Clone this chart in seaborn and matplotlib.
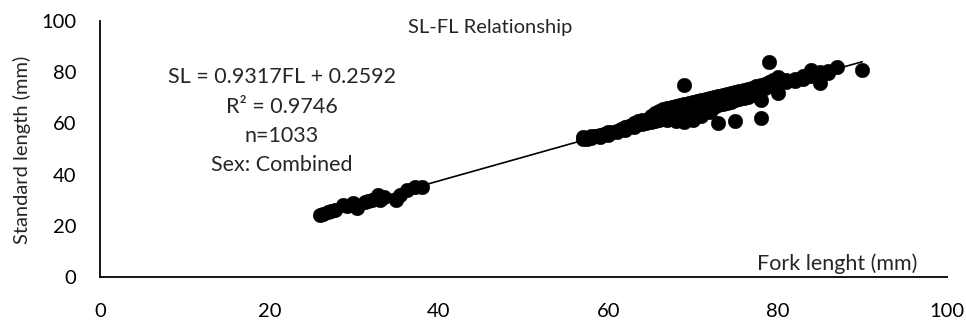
import matplotlib
matplotlib.use("Agg")
import matplotlib.pyplot as plt
import seaborn as sns
import pandas as pd

# ---- data ----
fl_small = [26, 26.9, 27.7, 28.7, 29.9, 30.3, 31.3, 32.1, 32.8, 33, 35, 35.4, 36.2, 37.2, 38, 26.3, 27.3, 29.2, 31.7, 33.5]
sl_small = [24.2, 25.4, 26.2, 28.1, 28.9, 27.0, 29.3, 30.1, 32.0, 30.0, 30.0, 32.0, 34.0, 35.2, 35.2, 24.8, 25.8, 27.8, 29.8, 31.2]

fl_large = [57, 57, 57.5, 58, 58, 58.5, 59, 59, 59.5, 60, 60, 60.5, 61, 61, 61.5, 62, 62, 62.5,
            63, 63, 63, 63.5, 63.5, 64, 64, 64, 64.5, 64.5, 65, 65, 65, 65.5, 65.5, 65.5,
            66, 66, 66, 66.5, 66.5, 66.5, 67, 67, 67, 67, 67.5, 67.5, 67.5, 68, 68, 68, 68,
            68.5, 68.5, 68.5, 69, 69, 69, 69, 69, 69.5, 69.5, 69.5, 70, 70, 70, 70,
            70.5, 70.5, 70.5, 71, 71, 71, 71, 71.5, 71.5, 71.5, 72, 72, 72, 72,
            72.5, 72.5, 72.5, 73, 73, 73, 73, 73.5, 73.5, 73.5, 74, 74, 74, 74.5, 74.5, 74.5,
            75, 75, 75, 75, 75.5, 75.5, 75.5, 76, 76, 76, 76.5, 76.5, 76.5, 77, 77, 77,
            77.5, 77.5, 78, 78, 78, 78, 78.5, 78.5, 79, 79, 79, 79.5, 79.5, 80, 80, 80,
            81, 81, 82, 82, 83, 83, 84, 84, 84, 85, 85, 85, 86, 86, 87, 90]
sl_large = [54.5, 53.8, 54.0, 54.2, 55.0, 55.0, 55.5, 54.8, 56.0, 56.5, 55.6, 56.8, 57.2, 56.5, 57.8, 58.5, 57.5, 58.8,
            59.5, 58.6, 60.2, 59.8, 61.0, 60.5, 59.6, 61.5, 61.0, 60.0, 61.8, 60.5, 63.0, 62.0, 64.0, 61.0,
            62.5, 64.8, 61.5, 63.2, 65.5, 62.0, 66.2, 63.0, 61.5, 64.5, 64.0, 66.5, 62.5, 65.0, 63.5, 61.0, 66.8,
            64.2, 62.0, 67.0, 75.0, 65.5, 63.5, 60.5, 67.5, 65.0, 62.5, 68.0, 66.0, 64.0, 61.5, 68.5,
            66.5, 64.5, 68.8, 67.0, 65.0, 69.0, 63.0, 67.5, 66.0, 69.5, 68.0, 66.0, 70.0, 64.5,
            68.2, 70.3, 66.5, 68.8, 60.0, 67.0, 70.8, 69.5, 71.0, 67.5, 70.0, 68.0, 71.5, 70.2, 72.0, 68.5,
            61.0, 70.8, 69.0, 72.3, 71.0, 72.8, 69.5, 71.5, 73.0, 70.0, 72.0, 73.5, 70.5, 72.5, 74.0, 71.0,
            73.0, 74.5, 62.0, 73.5, 75.0, 69.0, 74.0, 75.5, 84.0, 74.5, 76.0, 75.0, 77.0, 75.5, 78.0, 72.0,
            76.0, 76.8, 76.5, 77.5, 77.5, 78.5, 78.5, 80.0, 81.0, 79.0, 75.8, 80.0, 80.5, 79.5, 82.0, 81.0]

fl = fl_small + fl_large
sl = sl_small + sl_large
df = pd.DataFrame({"FL": fl, "SL": sl})

slope, intercept = 0.9317, 0.2592
trend = pd.DataFrame({"FL": [min(fl), max(fl)]})
trend["SL"] = slope * trend["FL"] + intercept

x_ticks = [0, 20, 40, 60, 80, 100]
y_ticks = [0, 20, 40, 60, 80, 100]

ann_lines = ["SL = 0.9317FL + 0.2592", "R² = 0.9746", "n=1033", "Sex: Combined"]

# ---- plot ----
sns.set_theme(style="white")
plt.rcParams["font.family"] = ["Lato", "DejaVu Sans"]

fig = plt.figure(figsize=(9.66, 3.22), dpi=100)
ax = fig.add_axes([100 / 966, 1 - 277 / 322, (947 - 100) / 966, (277 - 21) / 322])

sns.lineplot(data=trend, x="FL", y="SL", ax=ax, color="black", linewidth=1.2, zorder=3)
sns.scatterplot(data=df, x="FL", y="SL", ax=ax, color="black", s=110, edgecolor="black",
                linewidth=0.3, zorder=2)

ax.set_xlim(0, 100)
ax.set_ylim(0, 100)
ax.set_xticks(x_ticks)
ax.set_yticks(y_ticks)
ax.tick_params(axis="both", length=0, labelsize=14.5, colors="#000000")
ax.tick_params(axis="x", pad=19)
ax.tick_params(axis="y", pad=17)
ax.set_xlabel("")
ax.set_ylabel("")
for side in ["top", "right"]:
    ax.spines[side].set_visible(False)
for side in ["left", "bottom"]:
    ax.spines[side].set_color("#000000")
    ax.spines[side].set_linewidth(1.3)

fs = 15.5
fig.text(490 / 966, 1 - 28 / 322, "SL-FL Relationship", ha="center", va="center", fontsize=14.5)
fig.text(837 / 966, 1 - 264 / 322, "Fork lenght (mm)", ha="center", va="center", fontsize=fs)
fig.text(22 / 966, 1 - 150 / 322, "Standard length (mm)", ha="center", va="center",
         rotation=90, fontsize=14.5)

ann_y = [77, 107, 136, 165]
for txt, yp in zip(ann_lines, ann_y):
    fig.text(282 / 966, 1 - yp / 322, txt, ha="center", va="center", fontsize=fs)

fig.savefig("out.png", dpi=100)
